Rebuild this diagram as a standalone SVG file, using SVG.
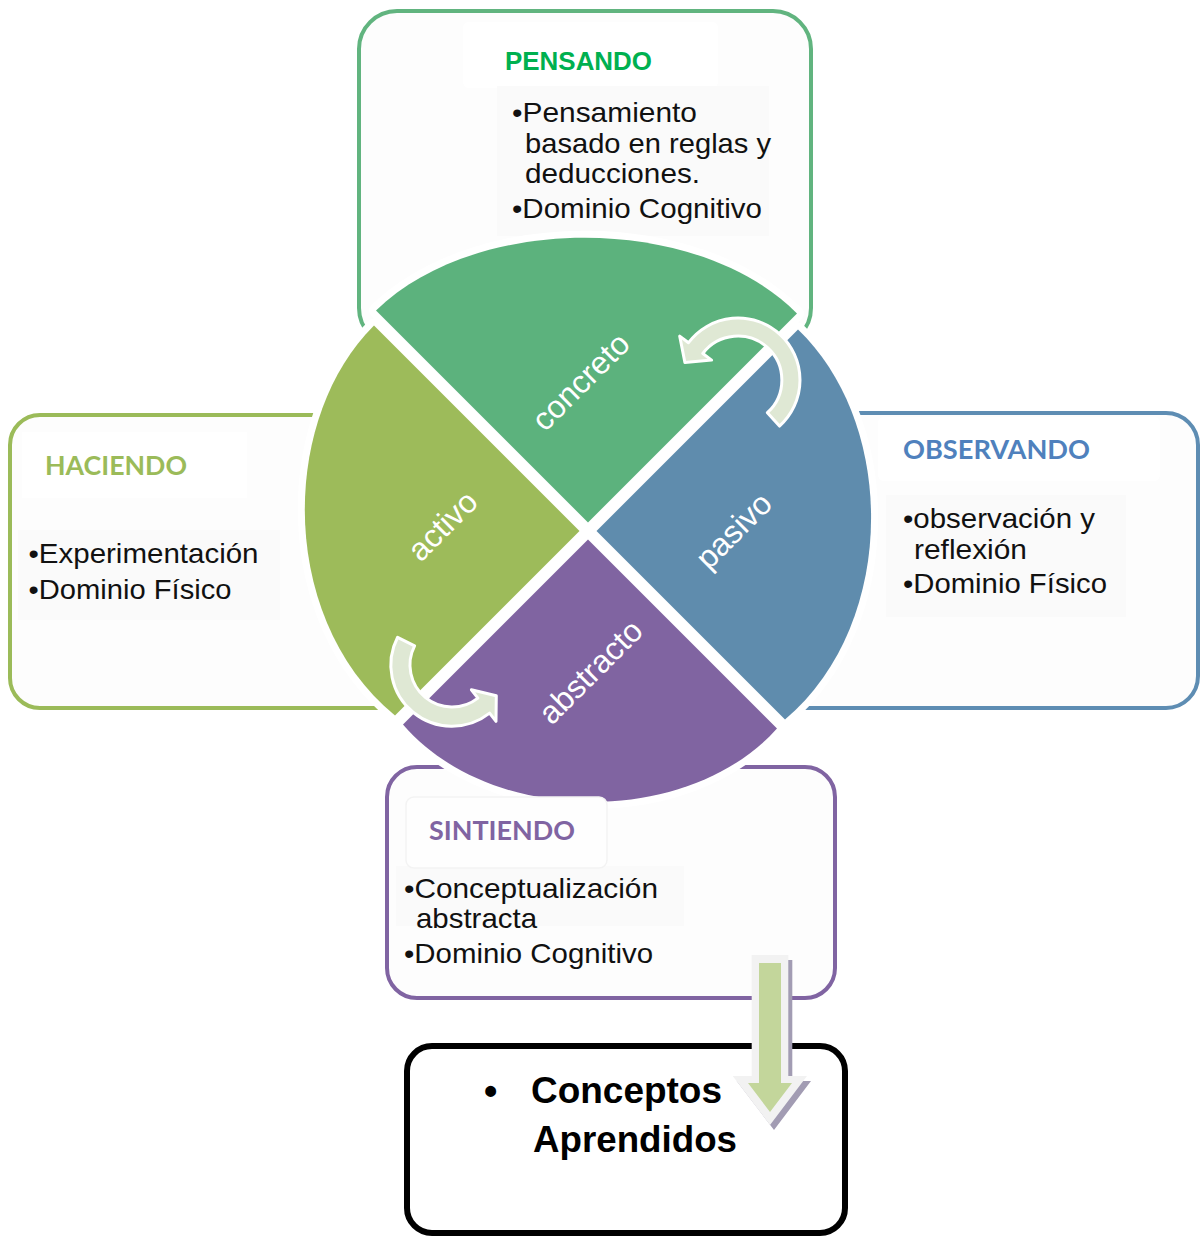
<svg xmlns="http://www.w3.org/2000/svg" width="1201" height="1237" viewBox="0 0 1201 1237">
<style>
.box{stroke-width:4;fill:#fdfdfd}
.tbg{fill:#fafafa}
.body{font-family:"Liberation Sans",Arial,sans-serif;font-size:28px;fill:#111}
.ttl{font-family:Lato,"Liberation Sans",sans-serif;font-weight:bold;font-size:27px}
.lbl{font-family:"Liberation Sans",Arial,sans-serif;font-size:32px;fill:#fff;text-anchor:middle}
.halo{fill:#fff;stroke:#fff;stroke-width:14;stroke-linejoin:round}
.carrow{fill:#dfe8d4;stroke:#fff;stroke-width:3;stroke-linejoin:round}
</style>
<defs>
<path id="qG" d="M588,522.5 L376,310.5 C476,213 697,213 797,313.5 Z"/>
<path id="qO" d="M579.5,531 L374,325.5 C278.5,420.5 278.5,620.5 395,715.5 Z"/>
<path id="qB" d="M596.5,531 L798,329.5 C897.5,424.5 897.5,624.5 785,719.5 Z"/>
<path id="qP" d="M588,539.5 L403,724.5 C491,827 689,827 777,728.5 Z"/>
</defs>
<rect width="1201" height="1237" fill="#fff"/>

<g id="pensando">
<rect class="box" x="359" y="11" width="452" height="335" rx="38" stroke="#61b47f"/>
<rect x="463" y="22" width="255" height="66" rx="6" fill="#fff"/>
<rect class="tbg" x="497" y="86" width="272" height="150"/>
<text x="505" y="70" font-family="'Liberation Sans',Arial,sans-serif" font-weight="bold" font-size="25" fill="#00b050" textLength="147" lengthAdjust="spacingAndGlyphs">PENSANDO</text>
<text class="body" x="512" y="122" textLength="185" lengthAdjust="spacingAndGlyphs">•Pensamiento</text>
<text class="body" x="525" y="153" textLength="246" lengthAdjust="spacingAndGlyphs">basado en reglas y</text>
<text class="body" x="525" y="183" textLength="175" lengthAdjust="spacingAndGlyphs">deducciones.</text>
<text class="body" x="512" y="218" textLength="250" lengthAdjust="spacingAndGlyphs">•Dominio Cognitivo</text>
</g>

<g id="haciendo">
<rect class="box" x="10" y="415" width="410" height="293" rx="30" stroke="#9bbb59"/>
<rect x="22" y="432" width="225" height="66" fill="#fff"/>
<rect class="tbg" x="18" y="530" width="262" height="90"/>
<text class="ttl" x="45" y="475" fill="#9bbb59" textLength="142" lengthAdjust="spacingAndGlyphs">HACIENDO</text>
<text class="body" x="28.5" y="563" textLength="230" lengthAdjust="spacingAndGlyphs">•Experimentación</text>
<text class="body" x="28.5" y="599" textLength="203" lengthAdjust="spacingAndGlyphs">•Dominio Físico</text>
</g>

<g id="observando">
<rect class="box" x="775" y="413" width="423" height="295" rx="32" stroke="#5e8db3"/>
<rect x="878" y="417" width="282" height="64" rx="6" fill="#fff"/>
<rect class="tbg" x="886" y="495" width="240" height="122"/>
<text class="ttl" x="903" y="459" fill="#4f81bd" textLength="187" lengthAdjust="spacingAndGlyphs">OBSERVANDO</text>
<text class="body" x="903" y="528" textLength="192" lengthAdjust="spacingAndGlyphs">•observación y</text>
<text class="body" x="914" y="559" textLength="113" lengthAdjust="spacingAndGlyphs">reflexión</text>
<text class="body" x="903" y="593" textLength="204" lengthAdjust="spacingAndGlyphs">•Dominio Físico</text>
</g>

<g id="sintiendo">
<rect class="box" x="387" y="767" width="448" height="231" rx="30" stroke="#8064a2"/>
<rect class="tbg" x="396" y="866" width="288" height="60"/>
<text class="body" x="404" y="898" textLength="254" lengthAdjust="spacingAndGlyphs">•Conceptualización</text>
<text class="body" x="416" y="928" textLength="121" lengthAdjust="spacingAndGlyphs">abstracta</text>
<text class="body" x="404" y="963" textLength="249" lengthAdjust="spacingAndGlyphs">•Dominio Cognitivo</text>
</g>

<g id="ciclo">
<use href="#qG" class="halo"/>
<use href="#qO" class="halo"/>
<use href="#qB" class="halo"/>
<use href="#qP" class="halo"/>
<g id="concreto">
<use href="#qG" fill="#5cb27d"/>
<text class="lbl" transform="translate(582,383) rotate(-45)" y="9">concreto</text>
</g>
<g id="activo">
<use href="#qO" fill="#9dbb5a"/>
<text class="lbl" transform="translate(444,527) rotate(-45)" y="9">activo</text>
</g>
<g id="pasivo">
<use href="#qB" fill="#5f8cad"/>
<text class="lbl" transform="translate(735,532) rotate(-45)" y="9">pasivo</text>
</g>
<g id="abstracto">
<use href="#qP" fill="#8064a1"/>
<text class="lbl" transform="translate(592,673) rotate(-45)" y="9">abstracto</text>
</g>
</g>

<g id="sintiendo-titulo">
<rect x="406" y="797" width="201" height="71" rx="8" fill="#fefefe" stroke="#f3f3f3" stroke-width="1.5"/>
<text class="ttl" x="429" y="840" fill="#8064a2" textLength="146" lengthAdjust="spacingAndGlyphs">SINTIENDO</text>
</g>

<g id="conceptos">
<rect x="407" y="1046" width="438" height="187" rx="25" fill="#fff" stroke="#000" stroke-width="6"/>
<text x="484" y="1104" font-family="'Liberation Sans',Arial,sans-serif" font-weight="bold" font-size="38" fill="#000">•</text>
<text x="531" y="1103" font-family="'Liberation Sans',Arial,sans-serif" font-weight="bold" font-size="36" fill="#000" textLength="191" lengthAdjust="spacingAndGlyphs">Conceptos</text>
<text x="533" y="1152" font-family="'Liberation Sans',Arial,sans-serif" font-weight="bold" font-size="36" fill="#000" textLength="204" lengthAdjust="spacingAndGlyphs">Aprendidos</text>
</g>

<g id="connectors">
<path class="carrow" d="M779.5,426.1 A62,62 0 1 0 688.5,342.7 L679.7,336.1 L684.9,362.5 L711.6,360.1 L702.8,353.5 A44,44 0 1 1 767.4,412.7 Z"/>
<path class="carrow" d="M397.6,637.3 A61,61 0 0 0 489.6,713.1 L496,721.3 L496.3,695.7 L471.4,689.8 L477.9,698.1 A42,42 0 0 1 414.6,645.9 Z"/>
<g id="flecha-abajo">
<polygon points="751.7,955 788.3,955 788.3,1076 807,1076 770,1125 732.7,1076 751.7,1076" fill="#a29cb3" transform="translate(4,5)"/>
<polygon points="751.7,955 788.3,955 788.3,1076 807,1076 770,1125 732.7,1076 751.7,1076" fill="#f2f2f2"/>
<polygon points="759,963 781,963 781,1083 792,1083 770,1112 748,1083 759,1083" fill="#c3d69b"/>
</g>
</g>
</svg>
